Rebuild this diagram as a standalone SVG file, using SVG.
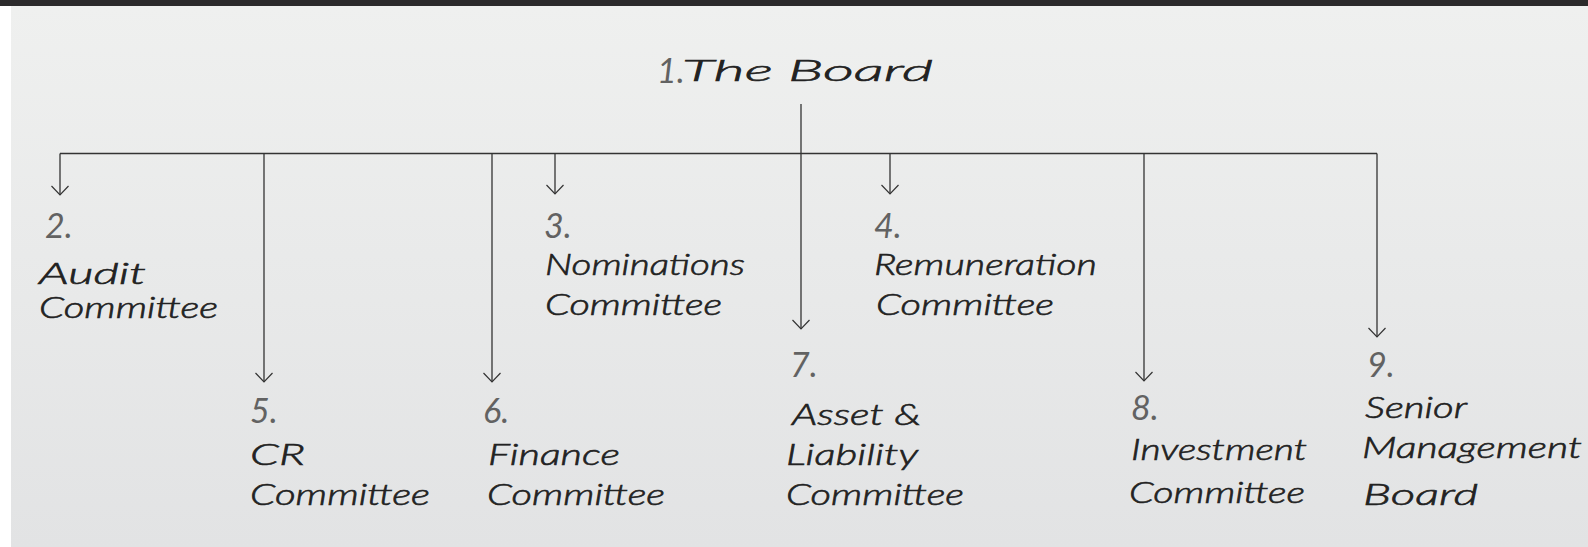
<svg xmlns="http://www.w3.org/2000/svg" width="1588" height="547" viewBox="0 0 1588 547">
<style>
.t{font-family:Lato,"Open Sans","Liberation Sans",sans-serif;font-style:italic;font-weight:300;font-size:29px;fill:#222;stroke:#222;stroke-width:0.6}
.n{font-family:Lato,"Open Sans","Liberation Sans",sans-serif;font-style:italic;font-weight:400;font-size:34px;fill:#626262}
.c{fill:none;stroke:#333;stroke-width:1.3}
</style>
<defs>
<linearGradient id="bg" x1="0" y1="0" x2="0" y2="1">
<stop offset="0" stop-color="#eff0ef"/>
<stop offset="1" stop-color="#e2e3e4"/>
</linearGradient>
<marker id="ah" markerUnits="userSpaceOnUse" viewBox="-12 -12 24 24" markerWidth="24" markerHeight="24" refX="0" refY="0" orient="auto" overflow="visible">
<path d="M-9,-8.5 L0,0 L-9,8.5" fill="none" stroke="#333" stroke-width="1.2"/>
</marker>
</defs>
<rect x="0" y="0" width="1588" height="547" fill="#ffffff"/>
<rect x="11" y="6" width="1577" height="541" fill="url(#bg)"/>
<rect x="0" y="0" width="1588" height="6" fill="#2b2a2b"/>
<g id="connectors">
<path class="c" d="M60,153.5 H1377"/>
<path class="c" d="M801,104 V329" stroke="#666" stroke-width="1.6" marker-end="url(#ah)"/>
<path class="c" d="M60,153.5 V195" marker-end="url(#ah)"/>
<path class="c" d="M264,153.5 V382" marker-end="url(#ah)"/>
<path class="c" d="M492,153.5 V382" marker-end="url(#ah)"/>
<path class="c" d="M555,153.5 V194" marker-end="url(#ah)"/>
<path class="c" d="M890,153.5 V194" marker-end="url(#ah)"/>
<path class="c" d="M1144,153.5 V381" marker-end="url(#ah)"/>
<path class="c" d="M1377,153.5 V337" marker-end="url(#ah)"/>
</g>
<g id="node1">
<text class="n" x="657" y="83" font-size="40">1.</text>
<text class="t" x="682" y="81" font-size="46" stroke-width="0.9" textLength="251" lengthAdjust="spacingAndGlyphs">The Board</text>
</g>
<g id="node2">
<text class="n" x="45" y="238">2.</text>
<text class="t" x="39" y="284" textLength="107" lengthAdjust="spacingAndGlyphs">Audit</text>
<text class="t" x="39" y="318" textLength="179" lengthAdjust="spacingAndGlyphs">Committee</text>
</g>
<g id="node3">
<text class="n" x="544" y="238">3.</text>
<text class="t" x="545" y="275" textLength="200" lengthAdjust="spacingAndGlyphs">Nominations</text>
<text class="t" x="545" y="315" textLength="177" lengthAdjust="spacingAndGlyphs">Committee</text>
</g>
<g id="node4">
<text class="n" x="874" y="238">4.</text>
<text class="t" x="874" y="275" textLength="223" lengthAdjust="spacingAndGlyphs">Remuneration</text>
<text class="t" x="876" y="315" textLength="178" lengthAdjust="spacingAndGlyphs">Committee</text>
</g>
<g id="node5">
<text class="n" x="250" y="423">5.</text>
<text class="t" x="250" y="465" textLength="55" lengthAdjust="spacingAndGlyphs">CR</text>
<text class="t" x="250" y="505" textLength="180" lengthAdjust="spacingAndGlyphs">Committee</text>
</g>
<g id="node6">
<text class="n" x="483" y="423">6.</text>
<text class="t" x="488" y="465" textLength="132" lengthAdjust="spacingAndGlyphs">Finance</text>
<text class="t" x="487" y="505" textLength="178" lengthAdjust="spacingAndGlyphs">Committee</text>
</g>
<g id="node7">
<text class="n" x="790" y="377">7.</text>
<text class="t" x="792" y="425" textLength="129" lengthAdjust="spacingAndGlyphs">Asset &amp;</text>
<text class="t" x="786" y="465" textLength="132" lengthAdjust="spacingAndGlyphs">Liability</text>
<text class="t" x="786" y="505" textLength="178" lengthAdjust="spacingAndGlyphs">Committee</text>
</g>
<g id="node8">
<text class="n" x="1131" y="420">8.</text>
<text class="t" x="1131" y="460" textLength="176" lengthAdjust="spacingAndGlyphs">Investment</text>
<text class="t" x="1129" y="503" textLength="176" lengthAdjust="spacingAndGlyphs">Committee</text>
</g>
<g id="node9">
<text class="n" x="1367" y="377">9.</text>
<text class="t" x="1365" y="418" textLength="102" lengthAdjust="spacingAndGlyphs">Senior</text>
<text class="t" x="1362" y="458" textLength="220" lengthAdjust="spacingAndGlyphs">Management</text>
<text class="t" x="1363" y="505" textLength="115" lengthAdjust="spacingAndGlyphs">Board</text>
</g>
</svg>
